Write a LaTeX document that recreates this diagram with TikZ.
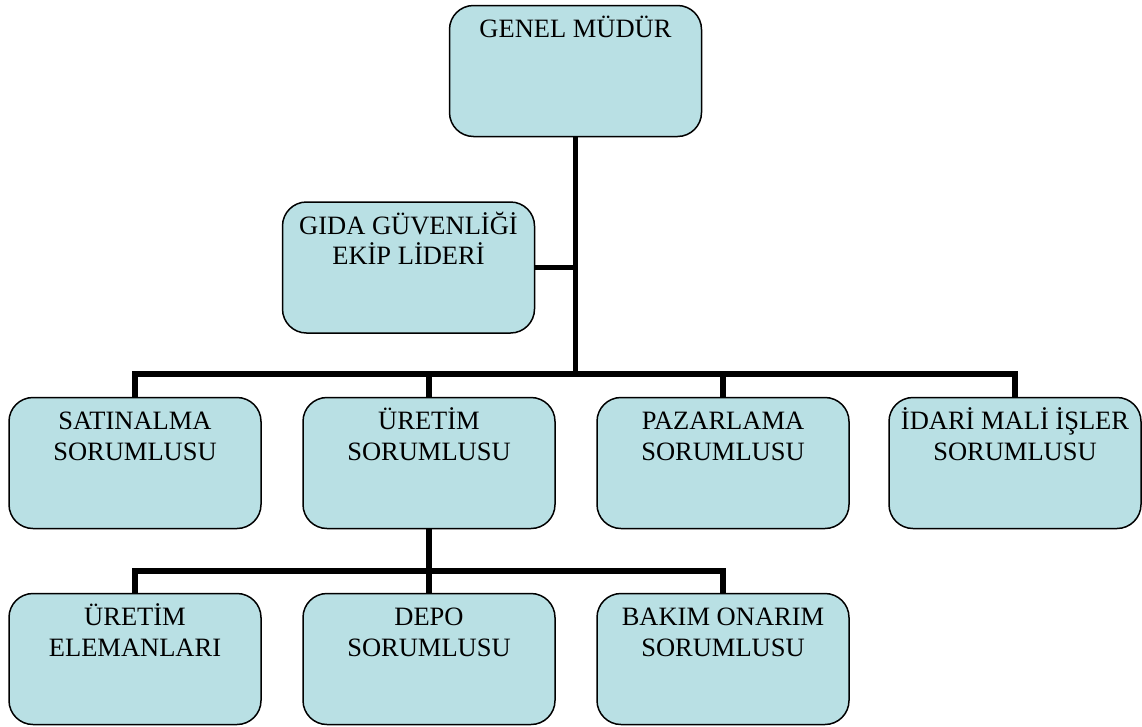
\documentclass[tikz,border=0pt]{standalone}
\usepackage{fontspec}
\setmainfont{Liberation Serif}
\definecolor{boxfill}{RGB}{185,224,228}
\newcommand{\topstrut}{\rule{0pt}{25pt}}
\begin{document}
\begin{tikzpicture}[x=1pt,y=-1pt,
  box/.style={draw=black, line width=1.5pt, fill=boxfill, rounded corners=24pt,
    minimum width=252pt, minimum height=131pt, inner sep=0pt},
  txt/.style={anchor=north, inner sep=0pt, align=center, text=black,
    font=\fontsize{26.5}{30.5}\selectfont},
  conn/.style={line width=5.5pt, draw=black, line join=miter, line cap=butt}]
\useasboundingbox (0,0) rectangle (1142,726);
% boxes
\node[box] (gm) at (575.5,71) {};
\node[box] (gg) at (408.5,267.5) {};
\node[box] (sa) at (135,463) {};
\node[box] (ur) at (429,463) {};
\node[box] (pa) at (723,463) {};
\node[box] (id) at (1015,463) {};
\node[box] (ue) at (135,659) {};
\node[box] (de) at (429,659) {};
\node[box] (ba) at (723,659) {};
% coordinates of bars
\coordinate (bar1) at (575.5,374);
\coordinate (bar2) at (429,571);
% connectors
\draw[conn] (gm.south) -- (bar1);
\draw[conn] (gg.east) -- (gg.east -| bar1);
\draw[conn] (sa.north) -- (sa.north |- bar1) -- (id.north |- bar1) -- (id.north);
\draw[conn] (ur.north) -- (ur.north |- bar1);
\draw[conn] (pa.north) -- (pa.north |- bar1);
\draw[conn] (ur.south) -- (bar2);
\draw[conn] (ue.north) -- (ue.north |- bar2) -- (ba.north |- bar2) -- (ba.north);
\draw[conn] (de.north) -- (de.north |- bar2);
% texts
\node[txt] (tgm) at ([yshift=-8pt]gm.north) {\topstrut GENEL MÜDÜR};
\node[txt] (tgg) at ([yshift=-8pt]gg.north) {\topstrut GIDA GÜVENLİĞİ\\EKİP LİDERİ};
\node[txt] (tsa) at ([yshift=-8pt]sa.north) {\topstrut SATINALMA\\SORUMLUSU};
\node[txt] (tur) at ([yshift=-8pt]ur.north) {\topstrut ÜRETİM\\SORUMLUSU};
\node[txt] (tpa) at ([yshift=-8pt]pa.north) {\topstrut PAZARLAMA\\SORUMLUSU};
\node[txt] (tid) at ([yshift=-8pt]id.north) {\topstrut İDARİ MALİ İŞLER\\SORUMLUSU};
\node[txt] (tue) at ([yshift=-8pt]ue.north) {\topstrut ÜRETİM\\ELEMANLARI};
\node[txt] (tde) at ([yshift=-8pt]de.north) {\topstrut DEPO\\SORUMLUSU};
\node[txt] (tba) at ([yshift=-8pt]ba.north) {\topstrut BAKIM ONARIM\\SORUMLUSU};
\end{tikzpicture}
\end{document}
